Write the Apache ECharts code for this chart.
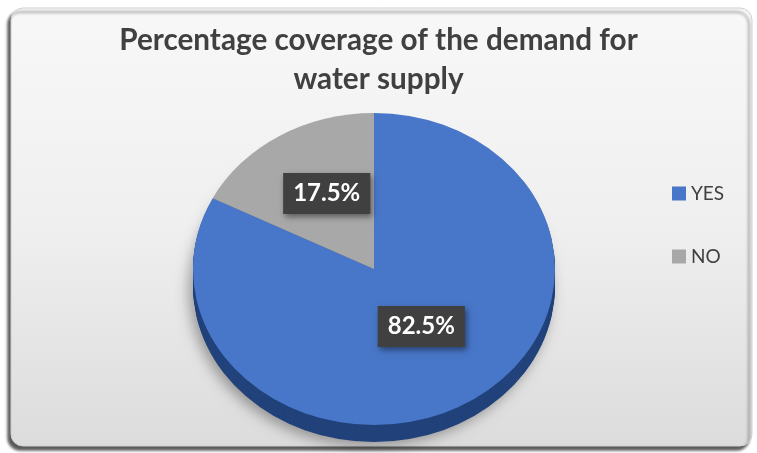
<!DOCTYPE html>
<html>
<head>
<meta charset="utf-8">
<script src="https://cdn.jsdelivr.net/npm/echarts@6/dist/echarts.min.js"></script>
<style>
html,body{margin:0;padding:0;background:#ffffff;}
#chart{width:757px;height:453px;}
</style>
</head>
<body>
<div id="chart"></div>
<script>
const titleText = 'Percentage coverage of the demand for\nwater supply';
const categories = ['YES', 'NO'];
const values = [82.5, 17.5];
const labelTexts = ['82.5%', '17.5%'];
const topColors = ['#4876C8', '#A8A8A8'];
const sideColors = ['#21427a', '#6e6e6e'];

const chart = echarts.init(document.getElementById('chart'));

const PIE = { cx: 374, cy: 269, rx: 181, ry: 156, depth: 17 };
const total = values.reduce((a, b) => a + b, 0);

function makeRender(idx) {
  return function (params, api) {
    let before = 0;
    for (let i = 0; i < idx; i++) before += values[i];
    const start = -Math.PI / 2 + 2 * Math.PI * before / total;
    const end = start + 2 * Math.PI * api.value(0) / total;
    const sy = PIE.ry / PIE.rx;
    const children = [];
    for (let k = PIE.depth; k >= 1; k -= 1) {
      children.push({
        type: 'sector',
        x: PIE.cx, y: PIE.cy + k, scaleY: sy,
        shape: { cx: 0, cy: 0, r: PIE.rx, r0: 0, startAngle: start, endAngle: end },
        style: k === PIE.depth
          ? { fill: sideColors[idx], shadowColor: 'rgba(0,0,0,0.35)', shadowBlur: 14, shadowOffsetX: -4, shadowOffsetY: 4 }
          : { fill: sideColors[idx] },
        z2: 1
      });
    }
    children.push({
      type: 'sector',
      x: PIE.cx, y: PIE.cy, scaleY: sy,
      shape: { cx: 0, cy: 0, r: PIE.rx, r0: 0, startAngle: start, endAngle: end },
      style: { fill: topColors[idx] },
      z2: 10
    });
    const mid = (start + end) / 2;
    children.push({
      type: 'text',
      x: PIE.cx + 0.5 * PIE.rx * Math.cos(mid),
      y: PIE.cy - 9 + 0.5 * PIE.ry * Math.sin(mid),
      style: {
        text: labelTexts[idx],
        fill: '#ffffff',
        font: 'bold 24px Lato',
        align: 'center',
        verticalAlign: 'middle',
        backgroundColor: '#404040',
        padding: [9, 10, 8, 10],
        shadowColor: 'rgba(0,0,0,0.45)',
        shadowBlur: 6,
        shadowOffsetX: 2,
        shadowOffsetY: 3
      },
      z2: 20
    });
    return { type: 'group', children: children };
  };
}

const series = categories.map((name, i) => ({
  type: 'custom',
  name: name,
  coordinateSystem: 'none',
  z: 2,
  data: [[values[i]]],
  itemStyle: { color: topColors[i] },
  renderItem: makeRender(i)
}));

chart.setOption({
  animation: false,
  color: topColors,
  graphic: [{
    type: 'rect',
    z: 0,
    shape: { x: 11, y: 8, width: 741, height: 438, r: 12 },
    style: {
      fill: {
        type: 'linear', x: 0, y: 0, x2: 0, y2: 1,
        colorStops: [
          { offset: 0, color: '#f8f8f8' },
          { offset: 0.5, color: '#efefef' },
          { offset: 1, color: '#dcdcdc' }
        ]
      },
      stroke: '#cfcfcf',
      lineWidth: 1,
      shadowColor: 'rgba(0,0,0,0.65)',
      shadowBlur: 3,
      shadowOffsetX: -3,
      shadowOffsetY: 4
    }
  }],
  title: {
    text: titleText,
    left: 'center',
    top: 16,
    textStyle: {
      fontFamily: 'Lato',
      fontWeight: 'bold',
      fontSize: 29.7,
      color: '#404040',
      lineHeight: 39
    }
  },
  legend: {
    data: categories,
    orient: 'vertical',
    left: 667,
    top: 179,
    icon: 'rect',
    itemWidth: 14,
    itemHeight: 14,
    itemGap: 44,
    selectedMode: false,
    textStyle: { fontFamily: 'Lato', fontSize: 19, color: '#404040' }
  },
  series: series
});
</script>
</body>
</html>
